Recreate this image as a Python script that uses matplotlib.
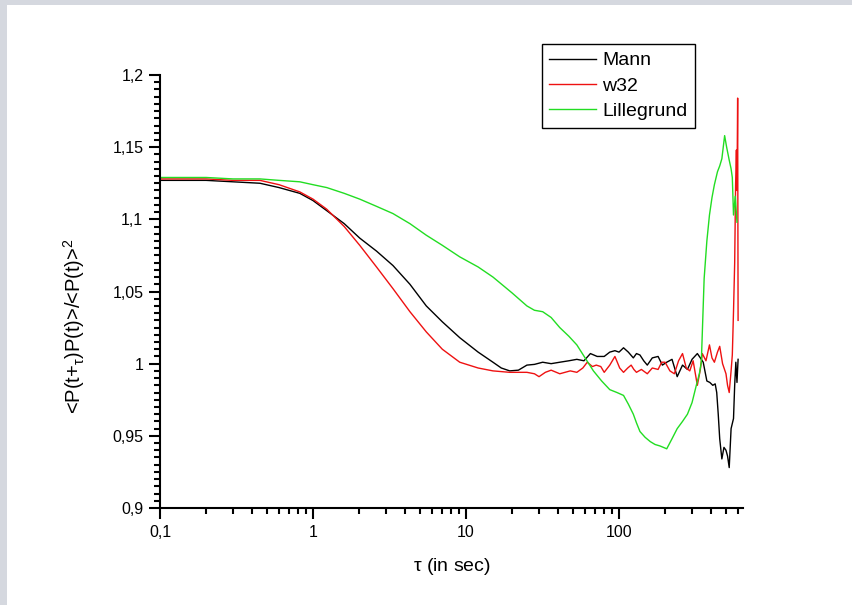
import matplotlib
matplotlib.use('Agg')
import matplotlib.pyplot as plt
from matplotlib.patches import Rectangle
from matplotlib.ticker import FixedLocator, NullFormatter
import numpy as np

plt.rcParams['font.family'] = ['Liberation Sans', 'DejaVu Sans']
plt.rcParams['mathtext.fontset'] = 'custom'
plt.rcParams['mathtext.rm'] = 'Liberation Sans'
plt.rcParams['mathtext.it'] = 'Liberation Sans'

#==============================================================================
#                               data
#==============================================================================
tau_mann = [0.1, 0.2, 0.3, 0.45, 0.6, 0.82, 1.0, 1.23, 1.6, 2.02, 2.6, 3.33, 4.3, 5.5,
            7.0, 9.1, 12, 15, 17, 19.3, 22, 25, 28, 31.7, 36, 41, 47, 53, 59, 65, 72,
            80, 87, 94, 100, 107, 115, 124, 130, 137, 145, 153, 165, 180, 192, 205,
            222, 240, 260, 280, 300, 325, 340, 355, 375, 392, 410, 425, 435, 445,
            455, 470, 485, 500, 512, 525, 540, 560, 570, 580, 590, 600]
g_mann = [1.127, 1.127, 1.126, 1.125, 1.122, 1.118, 1.113, 1.106, 1.097, 1.087, 1.078,
          1.068, 1.055, 1.040, 1.029, 1.018, 1.008, 1.001, 0.997, 0.995, 0.9955, 0.999,
          0.9995, 1.001, 1.000, 1.001, 1.002, 1.003, 1.002, 1.007, 1.005, 1.005, 1.008,
          1.009, 1.008, 1.011, 1.008, 1.004, 1.007, 1.006, 1.002, 0.999, 1.004, 1.005,
          0.999, 1.001, 1.003, 0.991, 0.999, 0.996, 1.003, 1.007, 1.004, 1.001, 0.988,
          0.987, 0.985, 0.986, 0.980, 0.965, 0.948, 0.934, 0.942, 0.940, 0.936, 0.928,
          0.955, 0.962, 0.985, 1.001, 0.987, 1.003]

tau_w32 = [0.1, 0.2, 0.3, 0.45, 0.6, 0.82, 1.0, 1.23, 1.6, 2.02, 2.6, 3.33, 4.3, 5.5,
           7.0, 9.1, 12, 15, 19.3, 25, 28, 30, 33, 36, 41, 48, 53, 58, 62, 67, 71, 76,
           80, 87, 94, 101, 107, 114, 120, 125, 130, 140, 153, 165, 180, 190, 200, 215,
           230, 245, 260, 275, 290, 305, 325, 340, 350, 370, 390, 405, 420, 440, 455,
           475, 500, 512, 525, 540, 550, 560, 570, 578, 585, 590, 596, 600]
g_w32 = [1.128, 1.128, 1.127, 1.127, 1.124, 1.119, 1.114, 1.107, 1.095, 1.082, 1.067,
         1.052, 1.036, 1.022, 1.010, 1.001, 0.997, 0.995, 0.994, 0.994, 0.993, 0.991,
         0.994, 0.9955, 0.993, 0.995, 0.994, 0.997, 1.001, 0.998, 0.999, 0.998, 0.994,
         0.999, 1.005, 0.997, 0.994, 0.997, 0.999, 0.996, 0.994, 0.996, 0.993, 0.997,
         0.996, 1.001, 1.001, 0.995, 0.993, 1.002, 1.007, 0.997, 0.995, 1.002, 0.985,
         0.996, 1.007, 1.002, 1.013, 1.004, 1.001, 1.008, 1.012, 1.000, 0.993, 0.985,
         0.980, 0.995, 1.006, 1.036, 1.070, 1.124, 1.148, 1.120, 1.184, 1.030]

tau_lille = [0.1, 0.2, 0.3, 0.45, 0.6, 0.82, 1.0, 1.23, 1.6, 2.02, 2.6, 3.33, 4.3, 5.5,
             7.0, 9.1, 12, 15, 20, 25, 28, 31.7, 36, 41, 47, 53, 60, 68, 77, 87, 97,
             107, 115, 124, 130, 137, 148, 160, 172, 185, 195, 205, 222, 240, 260, 280,
             300, 320, 335, 345, 360, 375, 390, 405, 420, 440, 455, 470, 490, 505, 525,
             540, 550, 560, 575, 590]
g_lille = [1.129, 1.129, 1.128, 1.128, 1.127, 1.126, 1.124, 1.122, 1.118, 1.114, 1.109,
           1.104, 1.097, 1.089, 1.082, 1.074, 1.067, 1.060, 1.049, 1.040, 1.037, 1.036,
           1.032, 1.025, 1.019, 1.013, 1.004, 0.995, 0.988, 0.982, 0.980, 0.978, 0.972,
           0.965, 0.959, 0.953, 0.949, 0.946, 0.944, 0.943, 0.942, 0.941, 0.948, 0.955,
           0.960, 0.965, 0.973, 0.985, 0.993, 1.001, 1.059, 1.085, 1.103, 1.115, 1.124,
           1.133, 1.137, 1.142, 1.158, 1.150, 1.141, 1.135, 1.129, 1.103, 1.116, 1.098]

xticks = [0.1, 1, 10, 100]
xticklabels = ['0,1', '1', '10', '100']
yticks = [0.9, 0.95, 1.0, 1.05, 1.1, 1.15, 1.2]
yticklabels = ['0,9', '0,95', '1', '1,05', '1,1', '1,15', '1,2']

#==============================================================================
#                               plotting
#==============================================================================
fig = plt.figure(figsize=(8.52, 6.05), dpi=100)
fig.patch.set_facecolor('#d5d8df')
fig.add_artist(Rectangle((7/852, 0), 1, 600/605, transform=fig.transFigure,
                         facecolor='white', edgecolor='none', zorder=-5))

ax = fig.add_axes([160/852, 97/605, 583/852, 433/605])
ax.plot(tau_mann, g_mann, color='black', lw=1.0, label='Mann')
ax.plot(tau_w32, g_w32, color='#ee1111', lw=1.0, label='w32')
ax.plot(tau_lille, g_lille, color='#22dd22', lw=1.0, label='Lillegrund')

ax.set_xscale('log')
ax.set_xlim(0.1, 646)
ax.set_ylim(0.9, 1.2)
ax.spines['top'].set_visible(False)
ax.spines['right'].set_visible(False)
for s in ['left', 'bottom']:
    ax.spines[s].set_linewidth(1.5)

ax.xaxis.set_major_locator(FixedLocator(xticks))
ax.set_xticklabels(xticklabels)
ax.xaxis.set_minor_locator(FixedLocator([k*10.0**e for e in range(-1, 3) for k in range(2, 10)
                                         if k*10.0**e < 646]))
ax.xaxis.set_minor_formatter(NullFormatter())
ax.set_yticks(yticks)
ax.set_yticklabels(yticklabels)
ax.yaxis.set_minor_locator(FixedLocator(np.arange(0.9, 1.2001, 0.005)))
ax.tick_params(which='major', direction='out', length=8, width=1.5, labelsize=11.5, pad=4)
ax.tick_params(which='minor', direction='out', length=4, width=1.5)

ax.set_xlabel(r'$\tau$ (in sec)', fontsize=14, labelpad=12)
ax.set_ylabel(r'<P(t+$_{\tau}$)P(t)>/<P(t)>$^{2}$', fontsize=14.5)
ax.yaxis.set_label_coords(-0.125, 0.42)

leg = ax.legend(loc='upper right', bbox_to_anchor=(695/852, 561/605),
                bbox_transform=fig.transFigure, fontsize=14, handlelength=2.4,
                handletextpad=0.3, labelspacing=0.4, borderpad=0.4, borderaxespad=0,
                fancybox=False, framealpha=1)
leg.get_frame().set_edgecolor('black')
leg.get_frame().set_linewidth(1.0)

fig.savefig('out.png', dpi=100, facecolor=fig.get_facecolor())
